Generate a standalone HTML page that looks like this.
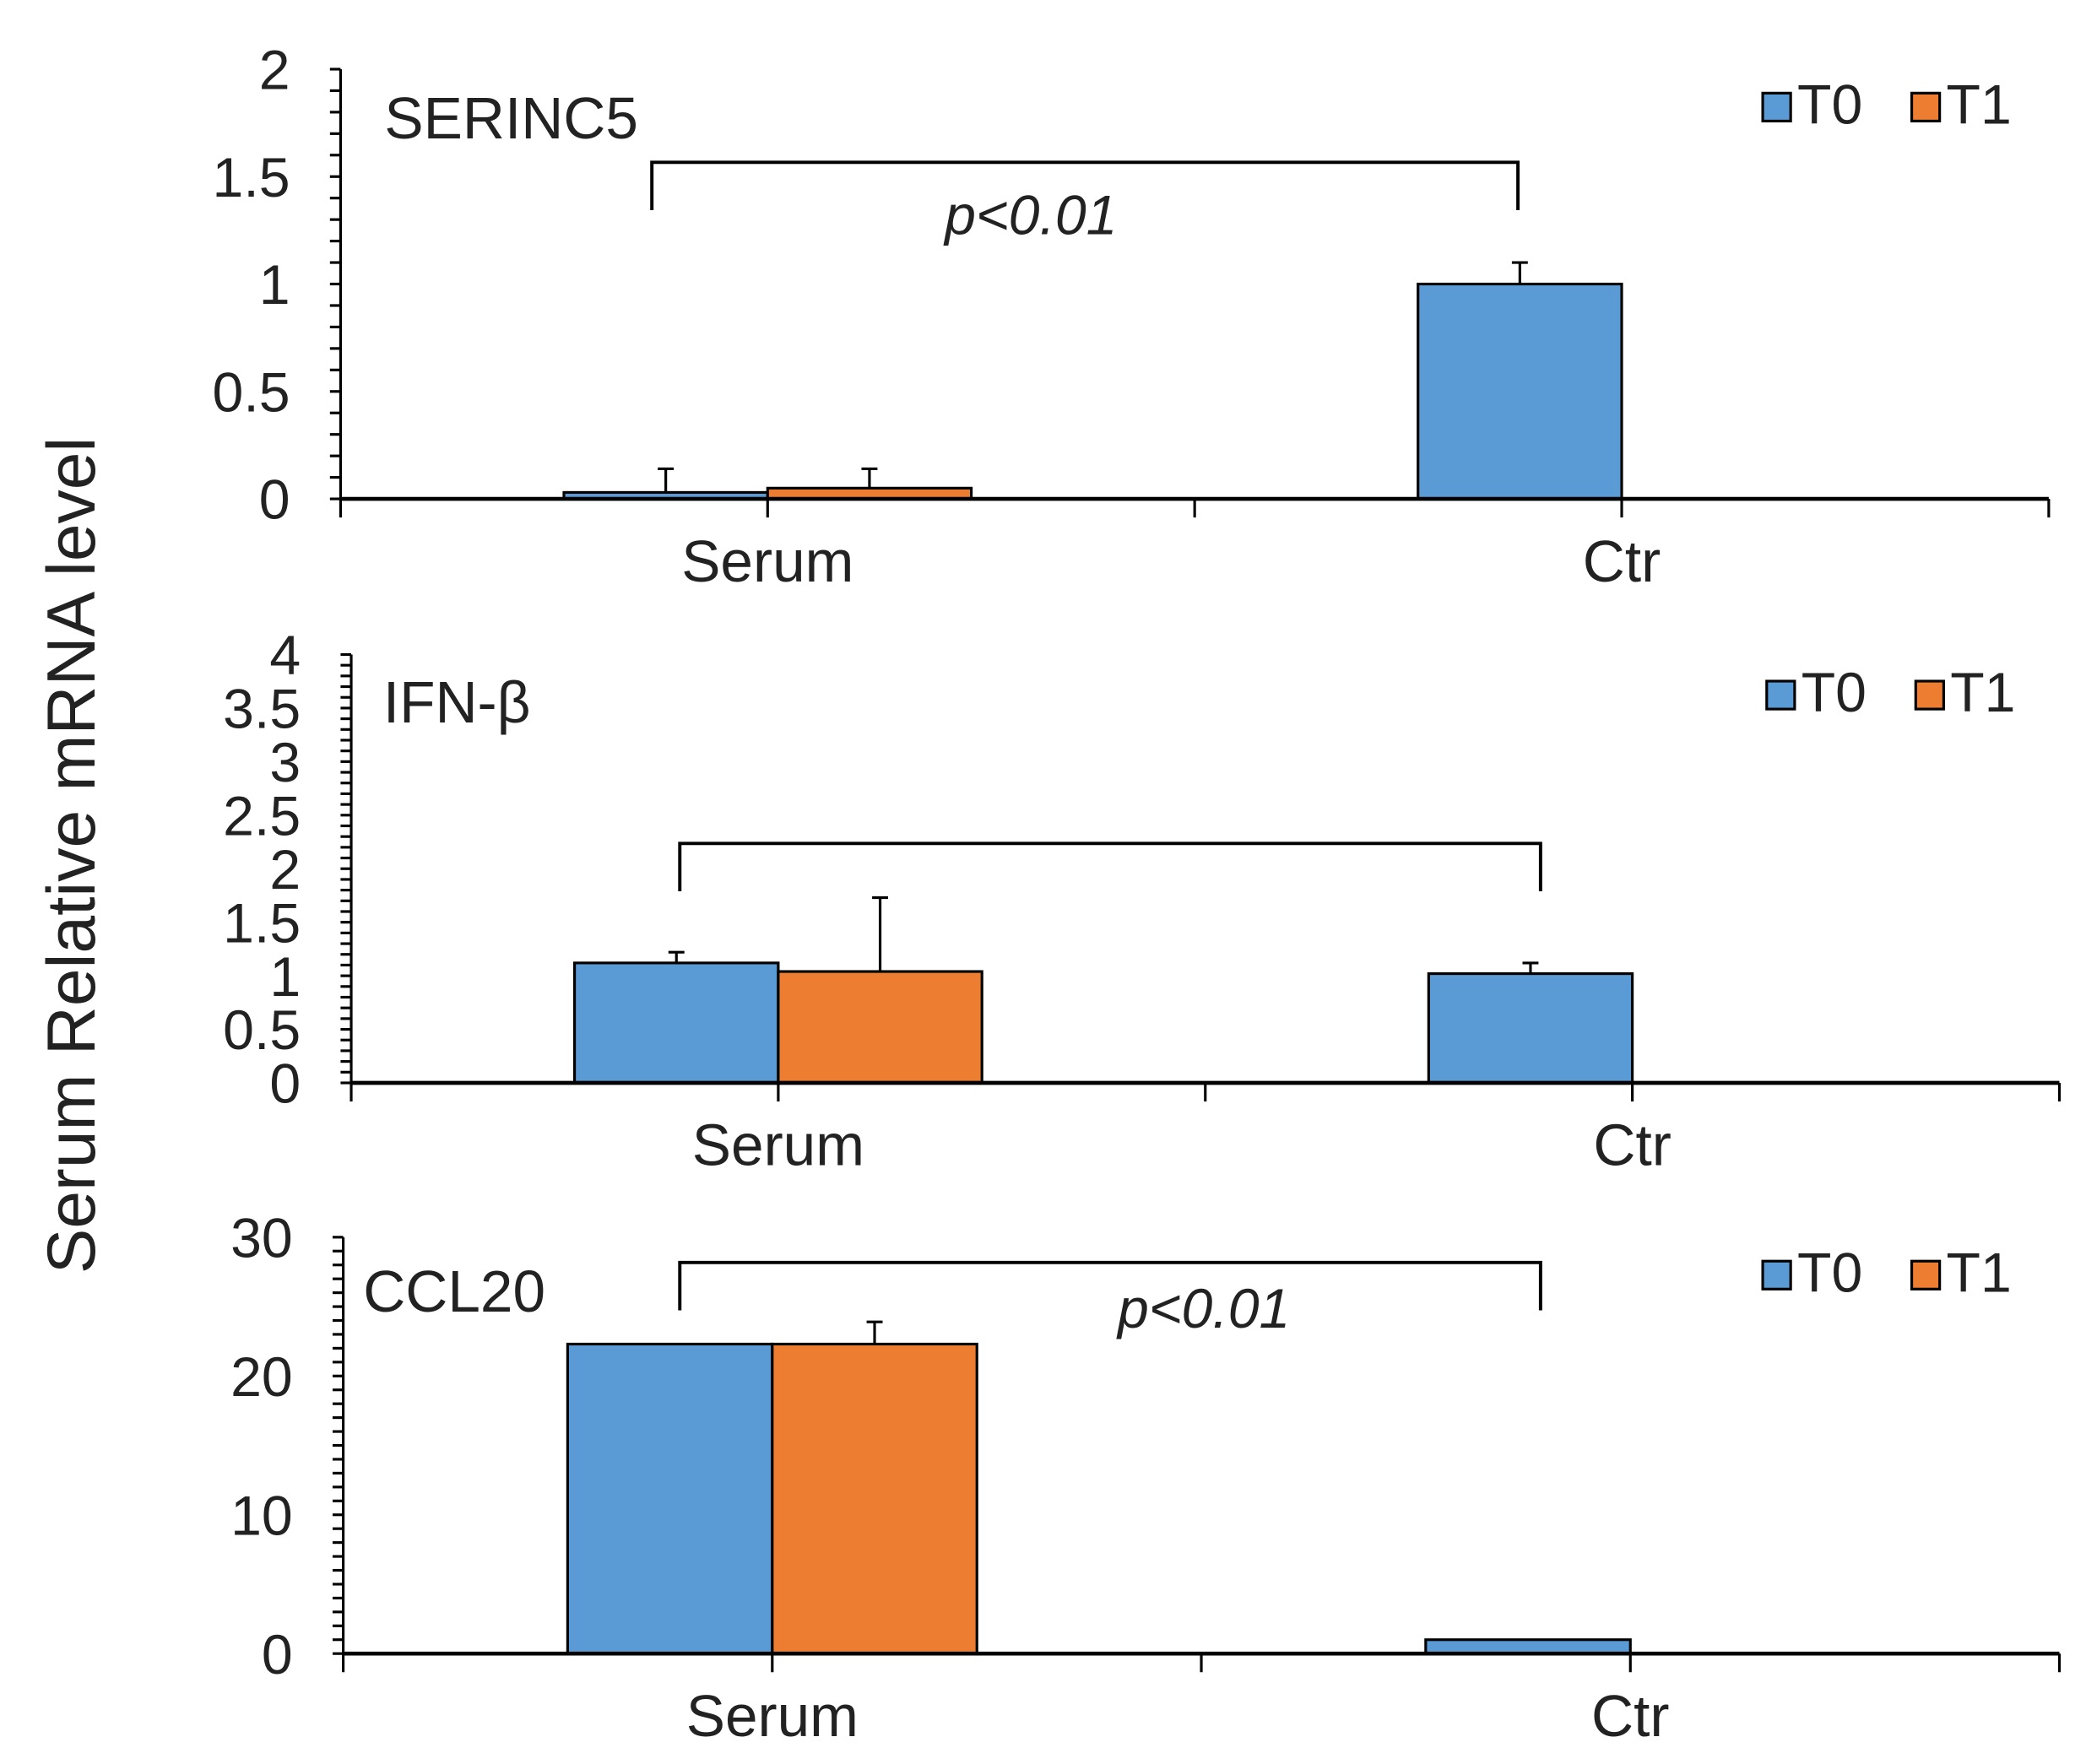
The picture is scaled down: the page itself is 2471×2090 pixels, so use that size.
<!DOCTYPE html>
<html><head><meta charset="utf-8"><style>
html,body{margin:0;padding:0;background:#fff}
svg{display:block}
text{font-family:"Liberation Sans",Arial,sans-serif;fill:#222}
</style></head><body>
<svg id="fig" width="2471" height="2090" viewBox="0 0 1568 1326" preserveAspectRatio="none" xmlns="http://www.w3.org/2000/svg">
<text transform="translate(71,643) rotate(-90)" text-anchor="middle" font-size="51">Serum Relative mRNA level</text>
</svg>
<script>
const categories = ["Serum", "Ctr"];
const seriesNames = ["T0", "T1"];
// SERINC5
const p1T0 = [0.03, 1.0];
const p1T0Err = [0.11, 0.10];
const p1T1 = [0.05, null];
const p1T1Err = [0.09, null];
const p1Ticks = ["0", "0.5", "1", "1.5", "2"];
// IFN-beta
const p2T0 = [1.12, 1.02];
const p2T0Err = [0.10, 0.10];
const p2T1 = [1.04, null];
const p2T1Err = [0.69, null];
const p2Ticks = ["0", "0.5", "1", "1.5", "2", "2.5", "3", "3.5", "4"];
// CCL20
const p3T0 = [22.3, 1.0];
const p3T0Err = [0, 0];
const p3T1 = [22.3, null];
const p3T1Err = [1.6, null];
const p3Ticks = ["0", "10", "20", "30"];

const NS = "http://www.w3.org/2000/svg";
const svg = document.getElementById("fig");
function mk(tag, attrs, parent){
  const e = document.createElementNS(NS, tag);
  for (const k in attrs) e.setAttribute(k, attrs[k]);
  (parent||svg).appendChild(e);
  return e;
}
const colors = ["#5B9BD5", "#ED7D31"];

function panel(cfg){
  const g = mk("g", {});
  
  
  const x0 = cfg.x0, x1 = cfg.x1, yTop = cfg.yTop, yZero = cfg.yZero, max = cfg.max;
  const y = v => yZero - (v / max) * (yZero - yTop);
  const slot = (x1 - x0) / 4;
  const cx = i => x0 + slot * (1 + 2 * i);
  const bw = slot * 0.477;
  const ya = mk("line", {x1:x0, y1:yTop, x2:x0, y2:yZero, stroke:"#000", "stroke-width":2}, g);
  
  
  const nMinor = Math.round(max / cfg.minor);
  for (let k = 0; k <= nMinor; k++){
    const yy = y(k * cfg.minor);
    mk("line", {x1:x0-8, y1:yy, x2:x0, y2:yy, stroke:"#000", "stroke-width":2}, g);
  }
  const step = max / (cfg.ticks.length - 1);
  cfg.ticks.forEach((t, k) => {
    const tl = mk("text", {x:x0-38, y:y(k*step)+15, "text-anchor":"end", "font-size":42}, g);
    tl.textContent = t;
    
    
  });
  cfg.series.forEach((vals, s) => {
    vals.forEach((v, i) => {
      if (v === null) return;
      const bx = cx(i) - bw + s * bw;
      const r = mk("rect", {x:bx, y:y(v), width:bw, height:yZero - y(v), fill:colors[s], stroke:"#000", "stroke-width":2}, g);
      
      
      const e = cfg.errs[s][i];
      if (e){
        const ex = bx + bw / 2;
        const eb = mk("path", {d:`M${ex},${y(v)} V${y(v+e)} M${ex-6},${y(v+e)} H${ex+6}`, stroke:"#000", "stroke-width":2, fill:"none"}, g);
        
        
      }
    });
  });
  const xa = mk("line", {x1:x0, y1:yZero, x2:x1, y2:yZero, stroke:"#000", "stroke-width":3}, g);
  
  
  for (let k = 0; k <= 4; k++){
    const xx = x0 + slot * k;
    mk("line", {x1:xx, y1:yZero, x2:xx, y2:yZero+14, stroke:"#000", "stroke-width":2}, g);
  }
  categories.forEach((c, i) => {
    const tl = mk("text", {x:cx(i), y:yZero+62, "text-anchor":"middle", "font-size":44}, g);
    tl.textContent = c;
    
    
  });
  const tt = mk("text", {x:cfg.titleX, y:cfg.titleY, "font-size":44}, g);
  tt.textContent = cfg.title;
  
  
  const br = mk("path", {d:`M${cfg.bx0},${cfg.by+36} V${cfg.by} H${cfg.bx1} V${cfg.by+36}`, stroke:"#000", "stroke-width":2.5, fill:"none"}, g);
  
  
  if (cfg.pX){
    const pt = mk("text", {x:cfg.pX, y:cfg.pY, "text-anchor":"middle", "font-size":42, "font-style":"italic"}, g);
    pt.textContent = "p<0.01";
    
    
  }
  seriesNames.forEach((n, s) => {
    const lx = cfg.legX + s * 112;
    const sq = mk("rect", {x:lx, y:cfg.legY, width:21, height:21, fill:colors[s], stroke:"#000", "stroke-width":2}, g);
    
    
    const lt = mk("text", {x:lx+26, y:cfg.legY+23, "font-size":42}, g);
    lt.textContent = n;
    
    
  });
}

panel({name:"serinc5", title:"SERINC5", x0:256, x1:1540, yTop:52, yZero:375, max:2, minor:0.1,
  ticks:p1Ticks, series:[p1T0, p1T1], errs:[p1T0Err, p1T1Err],
  titleX:289, titleY:104, bx0:490, bx1:1141, by:122, pX:775, pY:176, legX:1325, legY:70});
panel({name:"ifn-beta", title:"IFN-β", x0:264, x1:1548, yTop:492, yZero:814, max:4, minor:0.1,
  ticks:p2Ticks, series:[p2T0, p2T1], errs:[p2T0Err, p2T1Err],
  titleX:288, titleY:543, bx0:511, bx1:1158, by:634, pX:null, legX:1328, legY:512});
panel({name:"ccl20", title:"CCL20", x0:258, x1:1548, yTop:930, yZero:1243, max:30, minor:1,
  ticks:p3Ticks, series:[p3T0, p3T1], errs:[p3T0Err, p3T1Err],
  titleX:273, titleY:986, bx0:511, bx1:1158, by:949, pX:905, pY:998, legX:1325, legY:948});
</script>
</body></html>
